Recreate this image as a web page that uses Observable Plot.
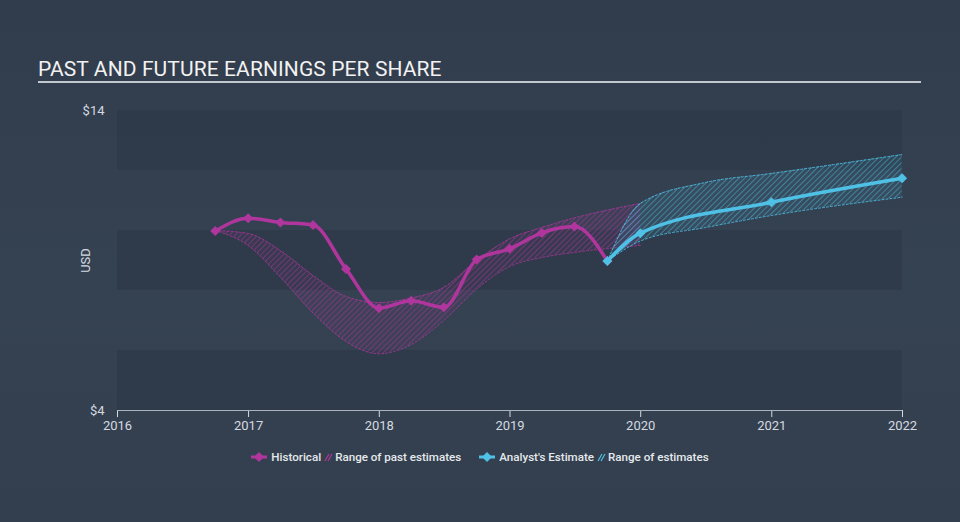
<!DOCTYPE html>
<html>
<head>
<meta charset="utf-8">
<script src="https://cdn.jsdelivr.net/npm/d3@7"></script>
<script src="https://cdn.jsdelivr.net/npm/@observablehq/plot@0.6"></script>
<style>
  html, body { margin: 0; padding: 0; }
  body { width: 960px; height: 522px; overflow: hidden; background: #333f4f; font-family: Roboto, "Noto Sans", sans-serif; }
  #wrap { position: relative; width: 960px; height: 522px; background: linear-gradient(180deg, #313d4c 0%, #354252 55%, #333f4e 100%); }
  #title { position: absolute; left: 38px; top: 57px; font-size: 21px; color: #f2f2f2; letter-spacing: 0.1px; line-height: 24px; white-space: nowrap; }
  #rule { position: absolute; left: 38px; top: 81px; width: 883px; height: 2px; background: #c3c8ce; }
  #chart { position: absolute; left: 0; top: 0; }
  #legend { position: absolute; left: 0; width: 960px; top: 450px; display: flex; justify-content: center; align-items: center; font-size: 11.6px; color: #e6e9ec; font-weight: 500; white-space: nowrap; padding-left: 0; }
  #legend .item { display: flex; align-items: center; }
  #legend svg { display: block; }
</style>
</head>
<body>
<div id="wrap">
  <div id="title">PAST AND FUTURE EARNINGS PER SHARE</div>
  <div id="rule"></div>
  <div id="chart"></div>
  <div id="legend"></div>
</div>
<script>
// ---- data ----
const histDates = ["2016-09-30","2016-12-31","2017-03-31","2017-06-30","2017-09-30","2017-12-31","2018-03-31","2018-06-30","2018-09-30","2018-12-31","2019-03-31","2019-06-30","2019-09-30"];
const histEPS   = [9.98, 10.41, 10.27, 10.18, 8.72, 7.41, 7.66, 7.44, 9.03, 9.39, 9.92, 10.13, 8.98];

const pastRangeDates = ["2016-09-30","2016-12-31","2017-03-31","2017-06-30","2017-09-30","2017-12-31","2018-03-31","2018-06-30","2018-09-30","2018-12-31","2019-03-31","2019-06-30","2019-09-30","2019-12-31"];
const pastRangeHigh  = [10.0, 9.9, 9.33, 8.5, 7.8, 7.6, 7.75, 8.1, 9.0, 9.72, 10.1, 10.42, 10.68, 10.9];
const pastRangeLow   = [10.0, 9.5, 8.44, 7.25, 6.3, 5.89, 6.2, 7.0, 8.05, 8.8, 9.1, 9.27, 9.4, 9.5];

const estDates = ["2019-09-30","2019-12-31","2020-12-31","2021-12-31"];
const estEPS   = [8.98, 9.91, 10.94, 11.74];

const estRangeDates = ["2019-09-30","2019-12-31","2020-06-30","2020-12-31","2021-12-31"];
const estRangeHigh  = [8.98, 10.9, 11.6, 11.9, 12.53];
const estRangeLow   = [8.98, 9.65, 10.1, 10.5, 11.11];

const yTicks = [4, 14];
const xDomain = ["2016-01-01", "2022-01-01"];

// ---- tables ----
const P = d3.utcParse("%Y-%m-%d");
const hist = histDates.map((d, i) => ({date: P(d), v: histEPS[i]}));
const pastRange = pastRangeDates.map((d, i) => ({date: P(d), hi: pastRangeHigh[i], lo: pastRangeLow[i]}));
const est = estDates.map((d, i) => ({date: P(d), v: estEPS[i]}));
const estRange = estRangeDates.map((d, i) => ({date: P(d), hi: estRangeHigh[i], lo: estRangeLow[i]}));
const dom = xDomain.map(P);
const bands = d3.range(yTicks[0], yTicks[1], 2).filter((v, i) => i % 2 === 0).map(v => ({y1: v, y2: v + 2}));

const MAG = "#b0369e";
const BLUE = "#4fc1e6";

const chart = Plot.plot({
  width: 960,
  height: 522,
  marginTop: 110,
  marginBottom: 112,
  marginLeft: 117,
  marginRight: 58,
  style: {background: "transparent", color: "#d5dae0", fontFamily: "Roboto, sans-serif", fontSize: "13px"},
  x: {type: "utc", domain: dom, ticks: d3.utcYear.every(1), tickFormat: d3.utcFormat("%Y"), tickSize: 7, tickPadding: 3, label: null},
  y: {domain: [yTicks[0], yTicks[1]], ticks: yTicks, tickFormat: d => "$" + d, tickSize: 0, tickPadding: 13, label: "USD", labelArrow: "none", labelAnchor: "center", labelOffset: 37},
  marks: [
    Plot.rect(bands, {x1: dom[0], x2: dom[1], y1: "y1", y2: "y2", fill: "#2d3948", fillOpacity: 0.75}),
    Plot.ruleY([yTicks[0]], {stroke: "#a9b2bd", strokeWidth: 1}),
    // past range
    Plot.areaY(pastRange, {x: "date", y1: "lo", y2: "hi", fill: "url(#hatchPast)", curve: "monotone-x"}),
    Plot.line(pastRange, {x: "date", y: "hi", stroke: MAG, strokeWidth: 1, strokeDasharray: "2,2", strokeOpacity: 0.8, curve: "monotone-x"}),
    Plot.line(pastRange, {x: "date", y: "lo", stroke: MAG, strokeWidth: 1, strokeDasharray: "2,2", strokeOpacity: 0.8, curve: "monotone-x"}),
    // future range
    Plot.areaY(estRange, {x: "date", y1: "lo", y2: "hi", fill: "url(#hatchEst)", curve: "monotone-x"}),
    Plot.line(estRange, {x: "date", y: "hi", stroke: BLUE, strokeWidth: 1, strokeDasharray: "2,2", strokeOpacity: 0.85, curve: "monotone-x"}),
    Plot.line(estRange, {x: "date", y: "lo", stroke: BLUE, strokeWidth: 1, strokeDasharray: "2,2", strokeOpacity: 0.85, curve: "monotone-x"}),
    // lines
    Plot.line(hist, {x: "date", y: "v", stroke: MAG, strokeWidth: 3.5, curve: "monotone-x"}),
    Plot.dot(hist, {x: "date", y: "v", symbol: "diamond2", r: 4.5, fill: MAG, stroke: null}),
    Plot.line(est, {x: "date", y: "v", stroke: BLUE, strokeWidth: 3.5, curve: "monotone-x"}),
    Plot.dot(est, {x: "date", y: "v", symbol: "diamond2", r: 4.5, fill: BLUE, stroke: null})
  ]
});

// hatch patterns
const ns = "http://www.w3.org/2000/svg";
const defs = document.createElementNS(ns, "defs");
function hatch(id, color, op, bgop) {
  const p = document.createElementNS(ns, "pattern");
  p.setAttribute("id", id);
  p.setAttribute("patternUnits", "userSpaceOnUse");
  p.setAttribute("width", "4");
  p.setAttribute("height", "4");
  p.setAttribute("patternTransform", "rotate(45)");
  const r = document.createElementNS(ns, "rect");
  r.setAttribute("width", "4"); r.setAttribute("height", "4");
  r.setAttribute("fill", color); r.setAttribute("fill-opacity", bgop);
  p.appendChild(r);
  const l = document.createElementNS(ns, "line");
  l.setAttribute("x1", "0"); l.setAttribute("y1", "0");
  l.setAttribute("x2", "0"); l.setAttribute("y2", "4");
  l.setAttribute("stroke", color); l.setAttribute("stroke-width", "1.3");
  l.setAttribute("stroke-opacity", op);
  p.appendChild(l);
  defs.appendChild(p);
}
hatch("hatchPast", MAG, 0.7, 0.08);
hatch("hatchEst", BLUE, 0.7, 0.1);
chart.insertBefore(defs, chart.firstChild);

document.getElementById("chart").appendChild(chart);

// legend
const legendItems = [
  {type: "marker", color: MAG, label: "Historical"},
  {type: "hatch", color: MAG, label: "Range of past estimates"},
  {type: "marker", color: BLUE, label: "Analyst's Estimate"},
  {type: "hatch", color: BLUE, label: "Range of estimates"}
];
const legend = d3.select("#legend");
legendItems.forEach((it, i) => {
  const item = legend.append("div").attr("class", "item")
    .style("margin-left", i === 2 ? "18px" : (i === 0 ? "0px" : "3px"));
  if (it.type === "marker") {
    const s = item.append("svg").attr("width", 16).attr("height", 12).style("margin-right", 4);
    s.append("line").attr("x1", 0).attr("x2", 16).attr("y1", 6).attr("y2", 6).attr("stroke", it.color).attr("stroke-width", 3);
    s.append("path").attr("d", "M8,1 L13,6 L8,11 L3,6 Z").attr("fill", it.color);
  } else {
    const s = item.append("svg").attr("width", 9).attr("height", 12).style("margin-right", 2);
    s.append("line").attr("x1", 1).attr("y1", 10).attr("x2", 5).attr("y2", 3).attr("stroke", it.color).attr("stroke-width", 1.2);
    s.append("line").attr("x1", 4).attr("y1", 10).attr("x2", 8).attr("y2", 3).attr("stroke", it.color).attr("stroke-width", 1.2);
  }
  item.append("span").text(it.label);
});
</script>
</body>
</html>
